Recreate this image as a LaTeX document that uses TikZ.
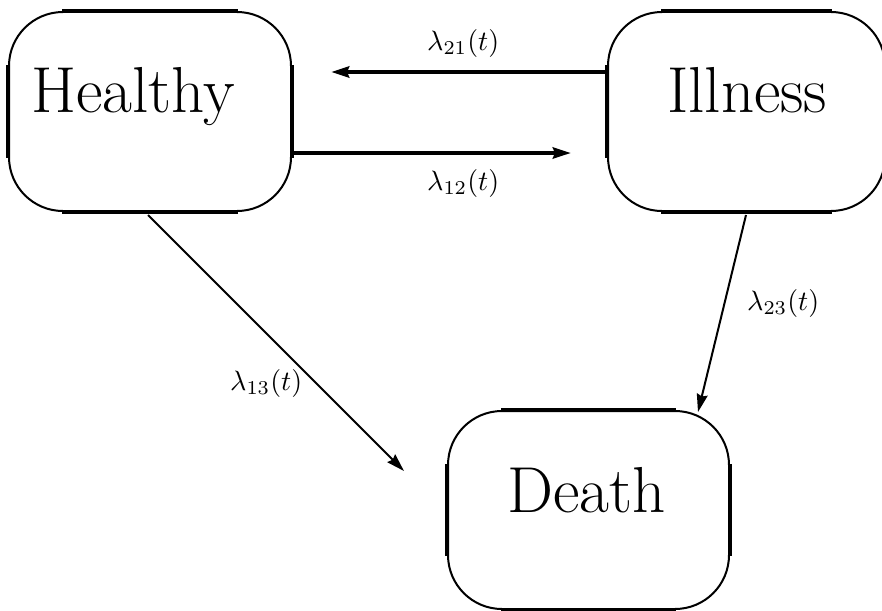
\documentclass[tikz,border=0pt]{standalone}
\usepackage{graphicx}
\usetikzlibrary{arrows.meta}
\tikzset{
  statebox/.style={draw, line width=2pt, rounded corners=54pt, inner sep=0pt, anchor=north west},
  flat/.style={line width=4pt},
  statetext/.style={inner sep=0pt, anchor=base west, font=\fontsize{65}{70}\selectfont},
  ratelabel/.style={inner sep=0pt, anchor=base west},
  thickarrow/.style={line width=4pt, -{Stealth[length=18pt,width=11pt,inset=2pt]}},
  thinarrow/.style={line width=2pt, -{Stealth[length=18pt,width=11pt,inset=2pt]}}
}
\newcommand{\flatsides}[1]{%
  \draw[flat] ([xshift=54pt]#1.north west) -- ([xshift=-54pt]#1.north east);
  \draw[flat] ([xshift=54pt]#1.south west) -- ([xshift=-54pt]#1.south east);
  \draw[flat] ([yshift=-54pt]#1.north west) -- ([yshift=54pt]#1.south west);
  \draw[flat] ([yshift=-54pt]#1.north east) -- ([yshift=54pt]#1.south east);
}
\newcommand{\rate}[1]{\scalebox{2.8}{$\lambda_{#1}(t)$}}
\begin{document}
\begin{tikzpicture}[x=1pt,y=-1pt]
\useasboundingbox (0,0) rectangle (882,610);
% boxes
\node[statebox, minimum width=282pt, minimum height=199pt] (H) at (8,11) {};
\node[statebox, minimum width=277pt, minimum height=199pt] (I) at (607,11) {};
\node[statebox, minimum width=281pt, minimum height=198pt] (D) at (447,410) {};
\flatsides{H}
\flatsides{I}
\flatsides{D}
% texts
\node[statetext] (Ht) at (31,112) {Healthy};
\node[statetext] (It) at (667,112) {Illness};
\node[statetext] (Dt) at (507,512) {Death};
% free ends
\coordinate (a21) at (331,72);
\coordinate (a12) at (571,153);
\coordinate (s13) at (148,215);
\coordinate (a13) at (404,471);
\coordinate (s23) at (746,215);
\coordinate (a23) at (698,412);
% connectors
\draw[thickarrow] (I.west |- a21) -- (a21);
\draw[thickarrow] (H.east |- a12) -- (a12);
\draw[thinarrow] (s13) -- (a13);
\draw[thinarrow] (s23) -- (a23);
% labels
\node[ratelabel] (l21) at (427,50) {\rate{21}};
\node[ratelabel] (l12) at (427,190) {\rate{12}};
\node[ratelabel] (l13) at (230,390) {\rate{13}};
\node[ratelabel] (l23) at (747,310) {\rate{23}};
\end{tikzpicture}
\end{document}
